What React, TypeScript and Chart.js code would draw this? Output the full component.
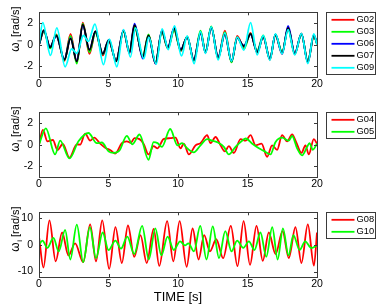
import React, { useEffect, useRef } from "react";
import { Chart, registerables } from "chart.js";

Chart.register(...registerables);

const FONT = "'Liberation Sans', Arial, Helvetica, sans-serif";

// ---------- Panel 1 : G02, G03, G06, G07, G09 (rad/s) ----------
const timeP1 = [0, 0.35, 0.8, 1.24, 1.83, 2.27, 2.72, 3.15, 3.63, 4.06, 4.59, 5.02, 5.55, 6.08, 6.51, 6.87, 7.47, 7.88, 8.38, 8.84, 9.27, 9.72, 10.2, 10.66, 11.14, 11.62, 11.98, 12.39, 12.89, 13.37, 13.85, 14.26, 14.74, 15.22, 15.7, 16.13, 16.61, 17.01, 17.49, 17.92, 18.4, 18.88, 19.34, 19.77, 20];
const g02 = [0, 1.25, -0.3, 0.95, -1.5, 1.0, -1.65, 2.05, -0.85, 1.2, -1.0, 0.3, -1.45, 1.25, -0.8, 1.75, -1.1, 0.9, -1.75, 1.2, -0.35, 1.4, -0.6, 0.75, -1.5, 1.2, -0.75, 1.65, -1.25, 1.3, -1.6, 0.8, -0.3, 1.1, -0.75, 0.75, -1.4, 0.85, -0.85, 1.6, -0.9, 1.05, -1.65, 0.75, 0.2];
const g03 = [0, 1.2, -0.35, 0.9, -1.45, 0.8, -1.75, 1.95, -0.7, 1.1, -0.9, 0.45, -1.5, 1.2, -0.65, 1.6, -1.05, 0.95, -1.65, 1.15, -0.35, 1.3, -0.55, 0.75, -1.5, 1.3, -0.65, 1.7, -1.3, 1.15, -1.65, 0.7, -0.4, 1.0, -0.55, 0.85, -1.3, 0.95, -0.7, 1.5, -0.85, 0.95, -1.55, 0.8, 0.05];
const g06 = [0, 1.3, -0.2, 0.8, -1.35, 0.6, -1.5, 1.8, -0.45, 1.2, -0.85, 0.45, -1.5, 1.35, -0.75, 1.95, -1.3, 0.8, -1.75, 1.3, -0.25, 1.55, -0.45, 0.7, -1.4, 1.05, -0.7, 1.55, -1.15, 0.95, -1.5, 0.6, -0.1, 0.95, -0.65, 0.75, -1.3, 0.95, -0.85, 1.75, -0.8, 1.0, -1.65, 0.9, 0.1];
const g07 = [0, 1.35, -0.25, 0.85, -1.4, 0.55, -1.55, 1.85, -0.5, 1.25, -0.85, 0.4, -1.55, 1.3, -0.7, 1.8, -1.15, 0.85, -1.7, 1.25, -0.3, 1.5, -0.5, 0.7, -1.45, 1.1, -0.7, 1.6, -1.2, 1.0, -1.55, 0.65, -0.15, 1.0, -0.7, 0.7, -1.35, 0.9, -0.75, 1.55, -0.85, 1.0, -1.6, 0.85, 0.1];
const timeG09 = [0, 0.27, 0.83, 1.28, 1.88, 2.35, 2.72, 3.2, 3.55, 4.02, 4.64, 5.07, 5.6, 6.08, 6.58, 6.94, 7.54, 7.9, 8.43, 8.86, 9.3, 9.75, 10.25, 10.66, 11.16, 11.62, 11.98, 12.39, 12.89, 13.37, 13.85, 14.26, 14.74, 15.22, 15.7, 16.13, 16.61, 17.01, 17.49, 17.92, 18.4, 18.88, 19.34, 19.77, 20];
const g09 = [0, 2.05, -1.0, 1.55, -2.05, -0.4, -0.8, 0.85, 0.3, 1.9, -1.85, 0.5, -2.05, 1.4, -1.15, 1.55, -1.3, 0.7, -1.8, 1.45, -0.45, 1.75, -1.05, 0.8, -1.75, 1.2, -0.8, 1.65, -1.4, 1.1, -1.55, 0.7, -0.5, 2.05, -0.95, 0.85, -1.45, 1.0, -0.85, 1.4, -0.95, 1.05, -1.75, 1.0, 0];

// ---------- Panel 2 : G04, G05 ----------
const timeG04 = [0, 0.28, 0.61, 1.0, 1.33, 1.71, 2.19, 2.72, 2.96, 3.32, 3.68, 3.97, 4.4, 4.76, 5.17, 5.48, 5.96, 6.32, 6.6, 6.87, 7.23, 7.52, 7.88, 8.24, 8.53, 8.96, 9.44, 9.82, 10.18, 10.42, 10.78, 11.26, 11.62, 12.1, 12.34, 12.7, 13.06, 13.37, 13.66, 14.02, 14.5, 14.86, 15.22, 15.58, 16.01, 16.41, 16.77, 17.13, 17.49, 17.85, 18.21, 18.5, 18.88, 19.17, 19.41, 19.77, 20];
const g04 = [0, 1.36, 0.31, 0.43, -0.5, 0.06, -1.2, 0.03, 0.0, 1.02, 0.37, 0.65, 0.09, -0.28, -0.54, -0.82, 0.14, 0.31, 0.17, 0.6, 0.51, 0.09, -0.91, -0.14, -0.34, 0.51, 0.6, 0.65, -0.34, 0.09, -0.91, -0.06, 0.14, 0.88, 0.14, 0.71, -0.06, -0.62, -0.14, -0.77, 0.51, 0.37, 0.88, -0.06, 0.09, -1.14, -0.06, -0.48, 0.88, 0.31, 0.94, 0.23, -0.77, -0.06, -0.91, 0.51, 0.09];
const timeG05 = [0, 0.49, 1.16, 1.52, 2.19, 2.84, 3.56, 4.16, 4.52, 5.0, 5.36, 5.79, 6.32, 6.72, 7.23, 7.88, 8.24, 8.53, 8.84, 9.44, 9.96, 10.3, 10.66, 11.14, 11.62, 12.1, 12.46, 12.82, 13.3, 13.66, 14.14, 14.5, 14.86, 15.34, 15.82, 16.2, 16.65, 17.01, 17.49, 17.97, 18.21, 18.57, 18.93, 19.29, 19.46, 19.7, 20];
const g05 = [0, 1.5, -0.91, 0.37, -1.28, 0.31, 1.08, 0.14, 0.2, -0.62, -0.77, -0.54, 0.82, 0.03, 0.94, -1.4, 0.23, 0.14, -0.2, 1.45, -0.06, 0.14, -0.34, -0.71, -0.06, 0.51, 0.37, 0.23, -0.2, -0.91, -0.2, 0.23, 0.57, 0.09, -0.34, -0.6, -0.91, 0.23, 0.65, 0.37, 0.8, -0.34, -0.99, -0.2, 0.14, -0.48, 0.09];

// ---------- Panel 3 : G08, G10 ----------
const timeG08 = [0, 0.32, 0.75, 1.2, 1.66, 2.12, 2.6, 3.18, 3.68, 4.1, 4.55, 5.05, 5.5, 5.96, 6.4, 6.85, 7.3, 7.75, 8.25, 8.65, 9.22, 9.66, 10.12, 10.62, 11.05, 11.48, 11.88, 12.3, 12.75, 13.25, 13.8, 14.28, 14.72, 15.18, 15.65, 16.1, 16.53, 17.02, 17.52, 17.97, 18.45, 18.88, 19.34, 19.78, 20];
const g08 = [3, -8.5, 9.0, -6.2, 4.5, -4.0, 0.5, -6.5, 7.5, -6.2, 9.0, -9.0, 6.5, -6.8, 7.1, -4.5, 3.5, -6.8, 5.8, -7.9, 8.7, -6.2, 8.7, -8.2, 6.0, -5.5, 3.5, -2.5, 2.0, -5.0, 7.0, -8.0, 8.7, -7.5, 7.0, -6.0, 4.5, -3.5, 5.0, -5.0, 6.5, -6.8, 7.5, -7.8, 4.5];
const timeG10 = [0, 0.25, 0.6, 1.04, 1.42, 1.88, 2.25, 2.72, 3.18, 3.66, 4.1, 4.58, 5.0, 5.5, 5.9, 6.35, 6.85, 7.42, 7.9, 8.37, 8.8, 9.25, 9.7, 10.15, 10.5, 10.75, 11.15, 11.6, 12.05, 12.5, 12.95, 13.4, 13.85, 14.25, 14.7, 15.1, 15.5, 15.93, 16.35, 16.78, 17.17, 17.55, 17.95, 18.3, 18.75, 19.15, 19.6, 20];
const g10 = [0, 1.5, -1.2, 2.5, -2.5, 5.5, -5.5, 7.4, -6.5, 6.5, -5.0, 4.5, -2.0, 1.5, -1.5, 3.0, -3.5, 7.0, -5.5, 6.0, -4.0, 3.0, -2.0, 1.2, -0.3, 0.5, -2.5, 7.0, -5.5, 6.8, -5.0, 5.0, -2.5, 1.5, -1.2, 1.2, -2.0, 4.5, -4.5, 6.5, -5.5, 6.0, -4.0, 3.5, -2.0, 1.2, -1.3, -0.3];

// ---------- axes ----------
const xTickValues = [0, 5, 10, 15, 20];
const xLim = [0, 20];
const yTicksRad = [-2, 0, 2];
const yLimRad = [-3, 3];
const yTicksWide = [-10, 0, 10];
const yLimWide = [-12, 12];

type SeriesDef = { label: string; color: string; t: number[]; v: number[] };
type PanelDef = { series: SeriesDef[]; yLim: number[]; yTicks: number[]; offset: number; height: number; xTitle: boolean };

const panels: PanelDef[] = [
  {
    series: [
      { label: "G02", color: "#ff0000", t: timeP1, v: g02 },
      { label: "G03", color: "#00ff00", t: timeP1, v: g03 },
      { label: "G06", color: "#0000ff", t: timeP1, v: g06 },
      { label: "G07", color: "#000000", t: timeP1, v: g07 },
      { label: "G09", color: "#00ffff", t: timeG09, v: g09 },
    ],
    yLim: yLimRad, yTicks: yTicksRad, offset: 0, height: 100, xTitle: false,
  },
  {
    series: [
      { label: "G04", color: "#ff0000", t: timeG04, v: g04 },
      { label: "G05", color: "#00ff00", t: timeG05, v: g05 },
    ],
    yLim: yLimRad, yTicks: yTicksRad, offset: 100, height: 100, xTitle: false,
  },
  {
    series: [
      { label: "G08", color: "#ff0000", t: timeG08, v: g08 },
      { label: "G10", color: "#00ff00", t: timeG10, v: g10 },
    ],
    yLim: yLimWide, yTicks: yTicksWide, offset: 200, height: 108, xTitle: true,
  },
];

const AXIS_COLOR = "#3a3a3a";
const TEXT_COLOR = "#000000";

function makeFramePlugin(panel: PanelDef) {
  return {
    id: "matlabFrame",
    afterDraw(chart: any) {
      const ctx: CanvasRenderingContext2D = chart.ctx;
      const { left, right, top, bottom } = chart.chartArea;
      const xs = chart.scales.x;
      const ys = chart.scales.y;
      ctx.save();
      // box
      ctx.strokeStyle = AXIS_COLOR;
      ctx.lineWidth = 1;
      ctx.strokeRect(Math.round(left) + 0.5, Math.round(top) + 0.5, Math.round(right - left), Math.round(bottom - top));
      // inner ticks
      const tl = 3;
      ctx.beginPath();
      xTickValues.forEach((v) => {
        const px = Math.round(xs.getPixelForValue(v)) + 0.5;
        ctx.moveTo(px, bottom);
        ctx.lineTo(px, bottom - tl);
        ctx.moveTo(px, top);
        ctx.lineTo(px, top + tl);
      });
      panel.yTicks.forEach((v) => {
        const py = Math.round(ys.getPixelForValue(v)) + 0.5;
        ctx.moveTo(left, py);
        ctx.lineTo(left + tl, py);
        ctx.moveTo(right, py);
        ctx.lineTo(right - tl, py);
      });
      ctx.stroke();

      // y label  ω_i [rad/s]
      ctx.save();
      ctx.translate(18.5, (top + bottom) / 2 + 7);
      ctx.rotate(-Math.PI / 2);
      ctx.fillStyle = TEXT_COLOR;
      ctx.textAlign = "left";
      ctx.textBaseline = "alphabetic";
      ctx.font = `12px ${FONT}`;
      ctx.fillText("\u03c9", 0, 0);
      let w = ctx.measureText("\u03c9").width;
      ctx.font = `8px ${FONT}`;
      ctx.fillText("i", w + 0.5, 3);
      w += ctx.measureText("i").width + 0.5;
      ctx.font = `11px ${FONT}`;
      ctx.fillText(" [rad/s]", w, 0);
      ctx.restore();

      // legend box
      const n = panel.series.length;
      const lx = 326.5;
      const ly = Math.round(top) + 0.5;
      ctx.strokeStyle = AXIS_COLOR;
      ctx.lineWidth = 1;
      ctx.strokeRect(lx, ly, 49, 12 * n + 2);
      panel.series.forEach((s, i) => {
        const y = top + 7.5 + 12 * i;
        ctx.strokeStyle = s.color;
        ctx.lineWidth = 1.8;
        ctx.beginPath();
        ctx.moveTo(331.5, y);
        ctx.lineTo(354.5, y);
        ctx.stroke();
        ctx.fillStyle = TEXT_COLOR;
        ctx.font = `9.3px ${FONT}`;
        ctx.textAlign = "left";
        ctx.textBaseline = "middle";
        ctx.fillText(s.label, 356.5, y);
      });

      if (panel.xTitle) {
        ctx.fillStyle = TEXT_COLOR;
        ctx.font = `13px ${FONT}`;
        ctx.textAlign = "center";
        ctx.textBaseline = "alphabetic";
        ctx.fillText("TIME [s]", (left + right) / 2, 101);
      }
      ctx.restore();
    },
  };
}

function makeChart(canvas: HTMLCanvasElement, panel: PanelDef) {
  const n = panel.series.length;
  return new Chart(canvas, {
    type: "line",
    data: {
      datasets: panel.series.map((s, i) => ({
        label: s.label,
        data: s.t.map((x, k) => ({ x, y: s.v[k] })),
        borderColor: s.color,
        backgroundColor: s.color,
        borderWidth: 1.8,
        pointRadius: 0,
        cubicInterpolationMode: "monotone" as const,
        fill: false,
        order: n - i,
      })),
    },
    options: {
      animation: false,
      responsive: false,
      devicePixelRatio: 1,
      events: [],
      layout: { padding: { left: 0, right: 63, top: 5, bottom: 0 } },
      plugins: { legend: { display: false }, tooltip: { enabled: false } },
      scales: {
        x: {
          type: "linear",
          min: xLim[0],
          max: xLim[1],
          grid: { display: false, drawTicks: false },
          border: { display: false },
          afterBuildTicks: (s: any) => {
            s.ticks = xTickValues.map((v) => ({ value: v }));
          },
          afterFit: (s: any) => {
            s.height = panel.height - 77;
          },
          ticks: {
            padding: 1,
            color: TEXT_COLOR,
            font: { family: FONT, size: 10.5 },
            maxRotation: 0,
            autoSkip: false,
            callback: (v: any) => String(v),
          },
        },
        y: {
          type: "linear",
          min: panel.yLim[0],
          max: panel.yLim[1],
          grid: { display: false, drawTicks: false },
          border: { display: false },
          afterBuildTicks: (s: any) => {
            s.ticks = panel.yTicks.map((v) => ({ value: v }));
          },
          afterFit: (s: any) => {
            s.width = 39;
          },
          ticks: {
            padding: 6,
            color: TEXT_COLOR,
            font: { family: FONT, size: 10.5 },
            autoSkip: false,
            callback: (v: any) => String(v),
          },
        },
      },
    },
    plugins: [makeFramePlugin(panel)],
  } as any);
}

export default function App() {
  const r1 = useRef<HTMLCanvasElement>(null);
  const r2 = useRef<HTMLCanvasElement>(null);
  const r3 = useRef<HTMLCanvasElement>(null);
  const refs = [r1, r2, r3];

  useEffect(() => {
    const charts = panels.map((p, i) => makeChart(refs[i].current as HTMLCanvasElement, p));
    return () => charts.forEach((c) => c.destroy());
  }, []);

  return (
    <div style={{ position: "fixed", left: 0, top: 0, width: 380, height: 308, background: "#ffffff" }}>
      {panels.map((p, i) => (
        <canvas
          key={i}
          ref={refs[i]}
          width={380}
          height={p.height}
          style={{ position: "absolute", left: 0, top: p.offset, width: 380, height: p.height, display: "block" }}
        />
      ))}
    </div>
  );
}
